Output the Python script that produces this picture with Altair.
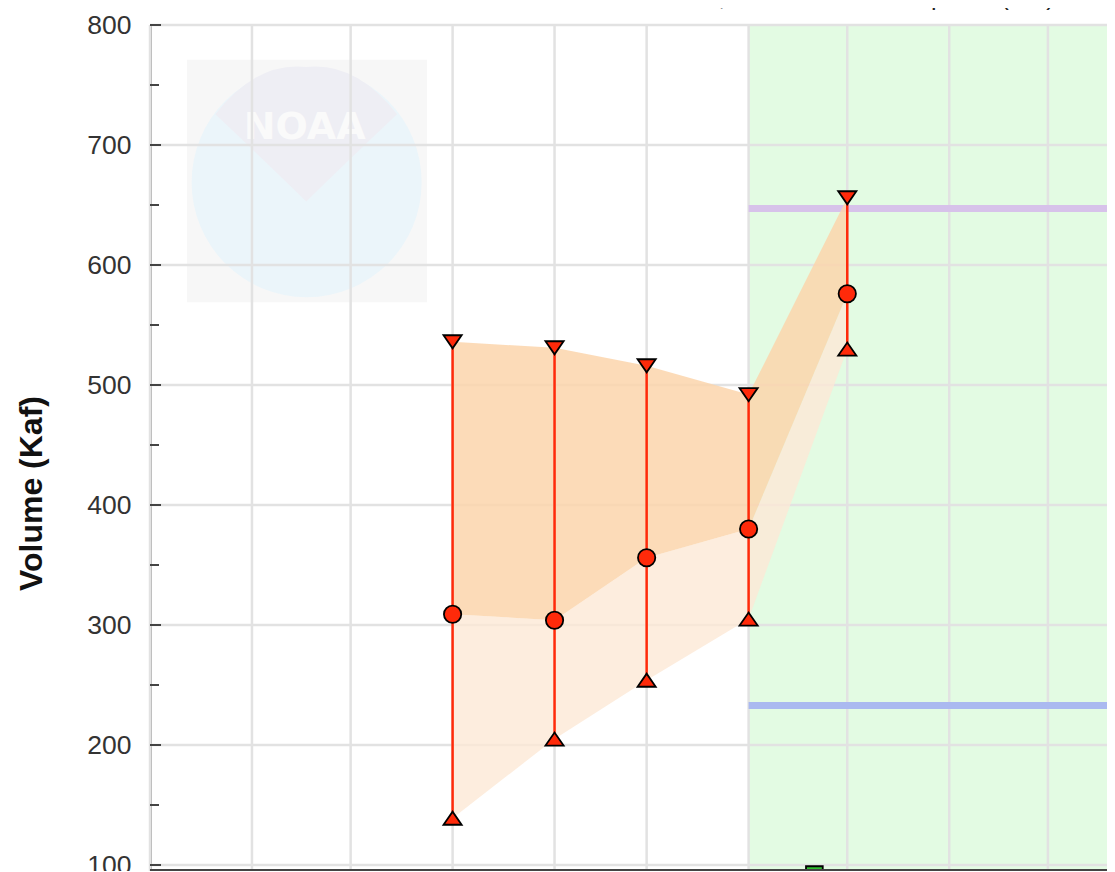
import altair as alt
import pandas as pd

# ---------------- data ----------------
issue_dates = ["2011-01-01", "2011-02-01", "2011-03-01", "2011-04-01", "2011-05-01"]
median_kaf = [309, 304, 356, 380, 576]
upper_kaf = [536, 531, 516, 492, 656]
lower_kaf = [139, 205, 254, 305, 530]

ref_levels = [647, 233]
ref_colors = ["#d7c2ea", "#aab9f0"]
period_start = "2011-04-01"
period_end = "2011-07-31"

observed_dates = ["2011-04-21"]
observed_kaf = [92]

month_starts = ["2010-10-01", "2010-11-01", "2010-12-01", "2011-01-01", "2011-02-01",
                "2011-03-01", "2011-04-01", "2011-05-01", "2011-06-01", "2011-07-01"]
y_major = [100, 200, 300, 400, 500, 600, 700, 800]
y_minor = [150, 250, 350, 450, 550, 650, 750]

title_text = "Water Year 2011, Forecast Period Apr-Jul (Kaf)"

# ---------------- layout ----------------
W, H = 963, 846
FONT = "Liberation Sans"

xscale = alt.Scale(type="utc",
                   domain=[alt.DateTime(year=2010, month=10, date=1, utc=True),
                           alt.DateTime(year=2011, month=7, date=20, hours=19, utc=True)])
yscale = alt.Scale(domain=[95, 800], nice=False, zero=False)
yaxis = alt.Axis(values=y_major, grid=False, ticks=False, labelFontSize=26.5, labelFont=FONT,
                 labelColor="#333333", labelPadding=19, domainColor="#9a9a9a", domainWidth=2.5,
                 title="Volume (Kaf)", titleFont=FONT, titleFontSize=32, titleFontWeight="bold",
                 titleColor="#111111", titleAngle=270, titleX=-119, titleY=468,
                 titleAlign="center", titleBaseline="middle")


def X(field):
    return alt.X(field, type="temporal", scale=xscale, axis=None)


def Y(field):
    return alt.Y(field, type="quantitative", scale=yscale, axis=yaxis)


fc = pd.DataFrame({"date": issue_dates, "median": median_kaf,
                   "upper": upper_kaf, "lower": lower_kaf})
refs = pd.DataFrame({"level": ref_levels, "color": ref_colors,
                     "start": [period_start] * 2, "end": [period_end] * 2})
period = pd.DataFrame({"start": [period_start], "end": [period_end]})
obs = pd.DataFrame({"date": observed_dates, "kaf": observed_kaf})
vgrid = pd.DataFrame({"date": month_starts})
hgrid = pd.DataFrame({"v": y_major})
minor = pd.DataFrame({"v": y_minor})

# faint NOAA watermark (placed in data space)
logo_box = pd.DataFrame({"x1": ["2010-10-12T06:00:00Z"], "x2": ["2010-12-24T05:00:00Z"],
                         "y1": [569], "y2": [771]})
logo_pt = pd.DataFrame({"date": ["2010-11-17T15:00:00Z"], "v": [669]})
logo_top = pd.DataFrame({"date": ["2010-11-17T12:00:00Z"], "v": [709]})
logo_txt = pd.DataFrame({"date": ["2010-11-17T00:00:00Z"], "v": [714], "t": ["NOAA"]})

# ---------------- layers ----------------
green = alt.Chart(period).mark_rect(color="#e3fbe3", clip=True).encode(
    x=X("start"), x2="end")

box = alt.Chart(logo_box).mark_rect(color="#f7f7f7").encode(
    x=X("x1"), x2="x2", y=Y("y1"), y2="y2")
circ = alt.Chart(logo_pt).mark_point(shape="circle", filled=True, color="#ebf5fa",
                                     opacity=1, size=52900).encode(x=X("date"), y=Y("v"))
shield = alt.Chart(logo_top).mark_point(
    shape="M-1,-0.22 Q-0.55,-0.8 0,-0.74 Q0.55,-0.8 1,-0.22 Q0.45,0.3 0,0.74 Q-0.45,0.3 -1,-0.22 Z",
    filled=True, color="#eeeef4", opacity=1, size=33000).encode(x=X("date"), y=Y("v"))
ltxt = alt.Chart(logo_txt).mark_text(font="DejaVu Sans", fontWeight="bold", fontSize=38,
                                     color="#fafafa").encode(x=X("date"), y=Y("v"), text="t:N")

vg = alt.Chart(vgrid).mark_rule(color="#e2e2e2", strokeWidth=2.5).encode(x=X("date"))
hg = alt.Chart(hgrid).mark_rule(color="#e2e2e2", strokeWidth=2.5).encode(y=Y("v"))

reflines = alt.Chart(refs).mark_rule(strokeWidth=7, clip=True).encode(
    x=X("start"), x2="end", y=Y("level"), color=alt.Color("color:N", scale=None))

lower_band = alt.Chart(fc).mark_area(color="#fde9d6", opacity=0.8).encode(
    x=X("date"), y=Y("lower"), y2="median")
upper_band = alt.Chart(fc).mark_area(color="#fbd5ab", opacity=0.85).encode(
    x=X("date"), y=Y("median"), y2="upper")

bars = alt.Chart(fc).mark_rule(color="#ff2a0a", strokeWidth=2.5).encode(
    x=X("date"), y=Y("lower"), y2="upper")

mk = dict(filled=True, fill="#ff2a0a", stroke="#000000", strokeWidth=1.8, opacity=1)
up_pts = alt.Chart(fc).mark_point(shape="M-1,-0.72 L1,-0.72 L0,0.72 Z", size=330, **mk).encode(
    x=X("date"), y=Y("upper"))
lo_pts = alt.Chart(fc).mark_point(shape="M-1,0.72 L1,0.72 L0,-0.72 Z", size=330, **mk).encode(
    x=X("date"), y=Y("lower"))
med_pts = alt.Chart(fc).mark_point(shape="circle", size=300, **mk).encode(
    x=X("date"), y=Y("median"))

obs_pts = alt.Chart(obs).mark_point(shape="square", size=280, filled=True, fill="#2fc12f",
                                    stroke="#000000", strokeWidth=1.8, opacity=1).encode(
    x=X("date"), y=Y("kaf"))

tick_major = alt.Chart(hgrid).mark_rule(color="#444444", strokeWidth=2).encode(
    y=Y("v"), x=alt.value(0), x2=alt.value(11))
tick_minor = alt.Chart(minor).mark_rule(color="#444444", strokeWidth=2).encode(
    y=Y("v"), x=alt.value(0), x2=alt.value(9))

frame_bottom = alt.Chart(hgrid).mark_rule(color="#444444", strokeWidth=2).encode(
    y=alt.value(H - 1), x=alt.value(0), x2=alt.value(W))
frame_right = alt.Chart(hgrid).mark_rule(color="#444444", strokeWidth=2).encode(
    x=alt.value(W), y=alt.value(0), y2=alt.value(H))

title_mark = alt.Chart(pd.DataFrame({"t": [title_text]})).mark_text(
    font=FONT, fontSize=25, color="#222222", align="left", baseline="alphabetic").encode(
    text="t:N", x=alt.value(385), y=alt.value(-20))

chart = alt.layer(
    green, box, circ, shield, ltxt, vg, hg, reflines, lower_band, upper_band, bars,
    up_pts, lo_pts, med_pts, obs_pts, tick_major, tick_minor, frame_bottom, frame_right,
    title_mark
).properties(
    width=W, height=H,
    autosize=alt.AutoSizeParams(type="none"),
    padding={"left": 142, "top": 17, "right": -6, "bottom": 0},
).configure_view(stroke=None).configure(background="white")

chart.save("out.html", embed_options={"renderer": "svg", "actions": False})
